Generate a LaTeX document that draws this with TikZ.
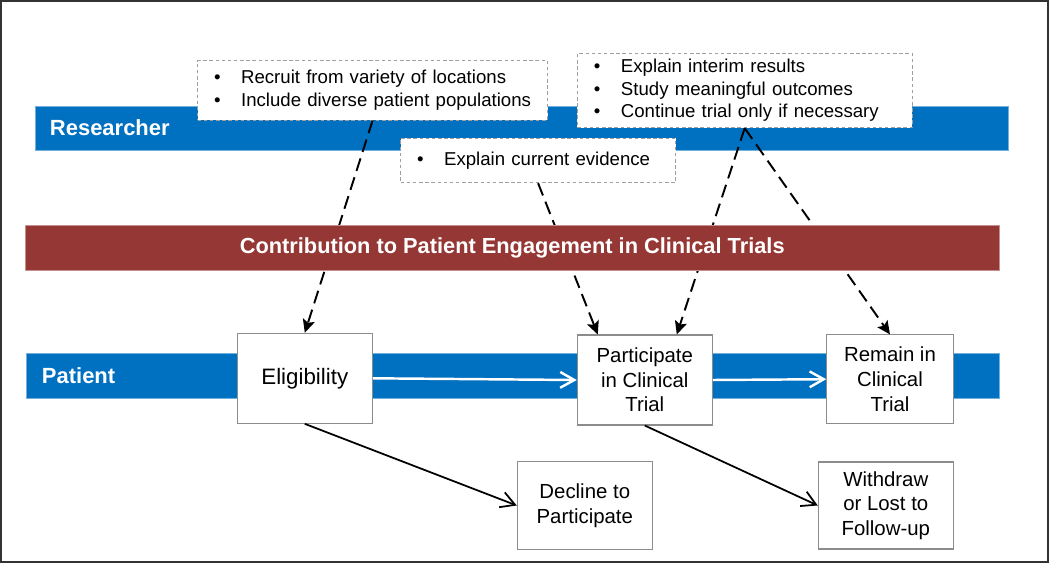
\documentclass[tikz,border=0pt]{standalone}
\usepackage{fontspec}
\setmainfont{Liberation Sans}
\usepackage{tikz}
\usetikzlibrary{arrows.meta,positioning}
\definecolor{resblue}{HTML}{0070C0}
\definecolor{trialred}{HTML}{953735}
\definecolor{boxgray}{HTML}{8C8C8C}
\newcommand{\bull}{\makebox[0.54cm][l]{\textbullet}}

\begin{document}
\begin{tikzpicture}[semithick,
    bar/.style={fill=resblue, draw=resblue!55!white, line width=0.5pt, minimum height=0.88cm,
      minimum width=19.46cm, inner xsep=0.3cm, text width=18.86cm,
      align=left, text=white, font=\fontsize{12.5}{14}\selectfont\bfseries},
    stage/.style={draw=boxgray, fill=white, line width=0.6pt, minimum width=2.7cm, minimum height=1.8cm,
      inner sep=0pt, align=center, font=\fontsize{11.6}{14}\selectfont},
    note/.style={draw=gray!75, fill=white, dash pattern=on 2pt off 1.5pt, line width=0.5pt,
      inner xsep=0.33cm, align=left, font=\fontsize{10.6}{12.9}\selectfont},
    hint/.style={dash pattern=on 7.5pt off 3.8pt, line width=1.1pt, -{Stealth[length=7.5pt,width=7pt,inset=1.5pt]}},
    flow/.style={line width=1pt, -{Straight Barb[length=8pt,width=9pt]}}]
    \useasboundingbox (0,0) rectangle (21,-11.28);
    \draw[line width=1.1pt, black!80] (0.02,-0.02) rectangle (20.96,-11.24);
    % lanes
    \node[bar] (resbar) at (10.43,-2.56) {Researcher};
    \node[bar, minimum height=0.9cm, inner xsep=0.32cm, text width=18.82cm] (patbar) at (10.25,-7.51) {Patient};
    % researcher notes
    \node[note, minimum width=7cm, minimum height=1.19cm, text width=6.34cm] (recruit) at (7.452,-1.807)
      {\bull Recruit from variety of locations\\ \bull Include diverse patient populations};
    \node[note, minimum width=6.69cm, minimum height=1.49cm, text width=6.03cm] (interim) at (14.894,-1.81)
      {\bull Explain interim results\\ \bull Study meaningful outcomes\\ \bull Continue trial only if necessary};
    \node[note, minimum width=5.5cm, minimum height=0.89cm, text width=4.84cm] (evidence) at (10.762,-3.21)
      {\bull Explain current evidence};
    % patient stages
    \node[stage, font=\fontsize{12.7}{15}\selectfont] (elig) at (6.096,-7.566) {Eligibility};
    \node[stage] (part) at (12.896,-7.6) {Participate\\ in Clinical\\ Trial};
    \node[stage, minimum width=2.53cm, minimum height=1.77cm] (remain) at (17.8,-7.584) {Remain in\\ Clinical\\ Trial};
    \node[stage, minimum height=1.75cm] (decline) at (11.696,-10.11) {Decline to\\ Participate};
    \node[stage, minimum height=1.74cm] (withdraw) at (17.716,-10.11) {Withdraw\\ or Lost to\\ Follow-up};
    \draw[hint] (recruit.south) -- (elig.north);
    \draw[hint] (evidence.south) -- ([xshift=0.42cm]part.north west);
    \draw[hint] (interim.south) -- ([xshift=2cm]part.north west);
    \draw[hint] (interim.south) -- (remain.north);
    % red bar goes over the dashed lines
    \node[fill=trialred, draw=trialred!55!white, line width=0.5pt, minimum width=19.47cm, minimum height=0.9cm,
      text=white, font=\fontsize{12.4}{14}\selectfont\bfseries] (contrib) at (10.244,-4.95)
      {Contribution to Patient Engagement in Clinical Trials};
    \draw[flow, white, line width=1.4pt] (elig.east) -- (part.west);
    \draw[flow, white, line width=1.4pt] (part.east) -- (remain.west);
    \draw[flow] (elig.south) -- (decline.west);
    \draw[flow] (part.south) -- (withdraw.west);
\end{tikzpicture}
\end{document}
